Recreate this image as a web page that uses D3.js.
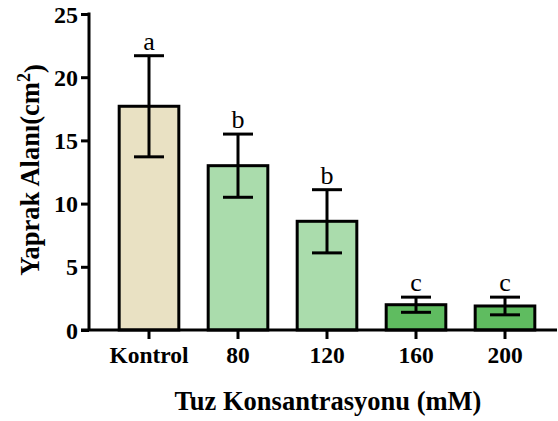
<!DOCTYPE html>
<html>
<head>
<meta charset="utf-8">
<script src="https://cdn.jsdelivr.net/npm/d3@7"></script>
<style>
  html, body { margin: 0; padding: 0; background: #fff; }
  svg { display: block; }
  text { font-family: "Liberation Serif", "Times New Roman", serif; fill: #000; }
</style>
</head>
<body>
<svg id="chart" width="558" height="421"></svg>
<script>
// Leaf area by salt concentration (mean ± SD) with significance letters
const groups  = ["Kontrol", "80", "120", "160", "200"];
const means   = [17.7, 13.0, 8.6, 2.0, 1.9];
const errors  = [4.0, 2.5, 2.5, 0.6, 0.7];
const letters = ["a", "b", "b", "c", "c"];
const fills   = ["#e9e1c3", "#aadcac", "#aadcac", "#5fbc60", "#5fbc60"];
const yTicks  = [0, 5, 10, 15, 20, 25];

const svg = d3.select("#chart");

const x = d3.scaleBand()
  .domain(groups)
  .range([104.5, 549.5])
  .paddingInner(0.33)
  .paddingOuter(0.165);

const y = d3.scaleLinear().domain([0, 25]).range([330, 14]);

const rows = groups.map((g, i) => ({
  g, mean: means[i], err: errors[i], letter: letters[i], fill: fills[i]
}));

// bars
svg.append("g").selectAll("rect").data(rows).join("rect")
  .attr("x", d => x(d.g))
  .attr("y", d => y(d.mean))
  .attr("width", x.bandwidth())
  .attr("height", d => y(0) - y(d.mean))
  .attr("fill", d => d.fill)
  .attr("stroke", "#000")
  .attr("stroke-width", 3);

// error bars
const capHalf = 15;
const eb = svg.append("g").attr("stroke", "#000").attr("stroke-width", 3);
rows.forEach(d => {
  const cx = x(d.g) + x.bandwidth() / 2;
  eb.append("line").attr("x1", cx).attr("x2", cx)
    .attr("y1", y(d.mean + d.err)).attr("y2", y(d.mean - d.err));
  [d.mean + d.err, d.mean - d.err].forEach(v => {
    eb.append("line").attr("x1", cx - capHalf).attr("x2", cx + capHalf)
      .attr("y1", y(v)).attr("y2", y(v));
  });
});

// significance letters
svg.append("g").selectAll("text").data(rows).join("text")
  .attr("x", d => x(d.g) + x.bandwidth() / 2)
  .attr("y", d => y(d.mean + d.err) - 6)
  .attr("text-anchor", "middle")
  .style("font-size", "26px")
  .text(d => d.letter);

// y axis
const yAxis = svg.append("g").attr("transform", "translate(89,0)")
  .call(d3.axisLeft(y).tickValues(yTicks).tickSize(8).tickPadding(3).tickSizeOuter(0));
yAxis.select(".domain").attr("stroke-width", 3).attr("d", "M0,12.5V330");
yAxis.selectAll(".tick line").attr("stroke-width", 3);
yAxis.selectAll(".tick text")
  .style("font-size", "24px").style("font-weight", "bold")
  .attr("dy", "0.34em");

// x axis
const xAxis = svg.append("g").attr("transform", "translate(0,330)")
  .call(d3.axisBottom(x).tickSize(9).tickPadding(6).tickSizeOuter(0));
xAxis.select(".domain").attr("stroke-width", 3).attr("d", "M81,0H557");
xAxis.selectAll(".tick line").attr("stroke-width", 3);
xAxis.selectAll(".tick text")
  .style("font-size", "23.5px").style("font-weight", "bold")
  .attr("dy", "0.75em");

// axis titles
svg.append("text")
  .attr("x", 328).attr("y", 410)
  .attr("text-anchor", "middle")
  .style("font-size", "26.5px").style("font-weight", "bold")
  .text("Tuz Konsantrasyonu (mM)");

const yt = svg.append("text")
  .attr("transform", "translate(39,170) rotate(-90)")
  .attr("text-anchor", "middle")
  .style("font-size", "26.5px").style("font-weight", "bold");
yt.append("tspan").text("Yaprak Alanı(cm");
yt.append("tspan").attr("dy", "-0.5em").style("font-size", "18px").text("2");
yt.append("tspan").attr("dy", "0.5em").text(")");
</script>
</body>
</html>
